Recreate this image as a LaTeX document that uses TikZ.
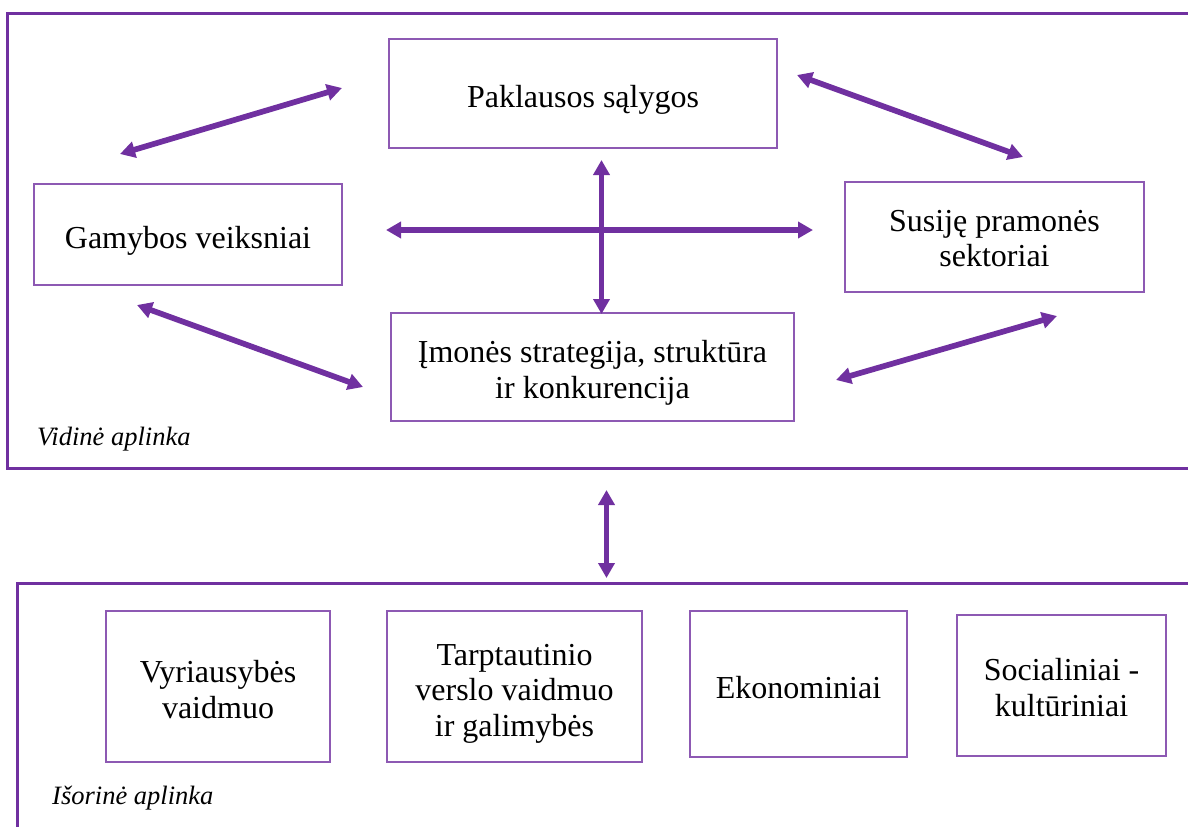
\documentclass[tikz,border=0pt]{standalone}
\usepackage{fontspec}
\setmainfont{Liberation Serif}
\usetikzlibrary{arrows.meta}
\definecolor{violet}{HTML}{7030A0}
\tikzset{
  frame/.style={draw=violet, line width=3pt},
  box/.style={draw=violet!80!white, line width=1.4pt, inner sep=0pt},
  boxtext/.style={inner sep=0pt, align=center, font=\fontsize{32}{35.5}\selectfont},
  link/.style={draw=violet, line width=5.7pt,
    {Triangle[length=15pt,width=16pt]}-{Triangle[length=15pt,width=16pt]}},
  envlabel/.style={anchor=west, inner sep=0pt, font=\fontsize{26.5}{30}\selectfont\itshape}
}
\begin{document}
\begin{tikzpicture}[x=1pt,y=-1pt]
\useasboundingbox (0,0) rectangle (1188,827);

% environment frames, open towards the right edge
\draw[frame] (1188,13.5) -- (7,13.5) -- (7,468) -- (1188,468);
\draw[frame] (1188,583) -- (17,583) -- (17,827);

% inner environment (diamond factors)
\node[box, minimum width=388pt, minimum height=109pt] (demand) at (583,93.5) {};
\node[boxtext] (demand-t) at ([yshift=-6pt]demand.center) {Paklausos sąlygos};
\node[box, minimum width=308pt, minimum height=101pt] (factors) at (188,234.5) {};
\node[boxtext] (factors-t) at ([yshift=-6.5pt]factors.center) {Gamybos veiksniai};
\node[box, minimum width=299pt, minimum height=110pt] (related) at (994.5,237) {};
\node[boxtext] (related-t) at ([yshift=-1.5pt]related.center) {Susiję pramonės\\sektoriai};
\node[box, minimum width=403pt, minimum height=108pt] (firm) at (592.5,367) {};
\node[boxtext] (firm-t) at ([yshift=-6pt]firm.center) {Įmonės strategija, struktūra\\ir konkurencija};

\node[envlabel] (inner) at (37,439) {Vidinė aplinka};

% outer environment
\node[box, minimum width=224pt, minimum height=151pt] (gov) at (218,686.5) {};
\node[boxtext] (gov-t) at ([yshift=-3pt]gov.center) {Vyriausybės\\vaidmuo};
\node[box, minimum width=255pt, minimum height=151pt] (intl) at (514.5,686.5) {};
\node[boxtext] (intl-t) at ([yshift=-7pt]intl.center) {Tarptautinio\\verslo vaidmuo\\ir galimybės};
\node[box, minimum width=217pt, minimum height=146pt] (econ) at (798.5,684) {};
\node[boxtext] (econ-t) at ([yshift=-4pt]econ.center) {Ekonominiai};
\node[box, minimum width=209pt, minimum height=141pt] (soc) at (1061.5,685.5) {};
\node[boxtext] (soc-t) at ([yshift=-2pt]soc.center) {Socialiniai -\\kultūriniai};

\node[envlabel] (outer) at (52,798) {Išorinė aplinka};

% arrow end points
\coordinate (fdA) at (120,154);
\coordinate (fdB) at (342,88);
\coordinate (drA) at (797,75);
\coordinate (drB) at (1023,157);
\coordinate (ffA) at (137,305);
\coordinate (ffB) at (363,387);
\coordinate (rfA) at (1057,316);
\coordinate (rfB) at (836,380);
\coordinate (hA) at (386,230);
\coordinate (hB) at (813,230);
\coordinate (vA) at (601.5,160);
\coordinate (vB) at (601.5,314);
\coordinate (ioA) at (606.5,490);
\coordinate (ioB) at (606.5,578);

% interactions
\draw[link] (fdA) -- (fdB);
\draw[link] (drA) -- (drB);
\draw[link] (ffA) -- (ffB);
\draw[link] (rfA) -- (rfB);
\draw[link] (hA) -- (hB);
\draw[link] (vA) -- (vB);
\draw[link] (ioA) -- (ioB);
\end{tikzpicture}
\end{document}
